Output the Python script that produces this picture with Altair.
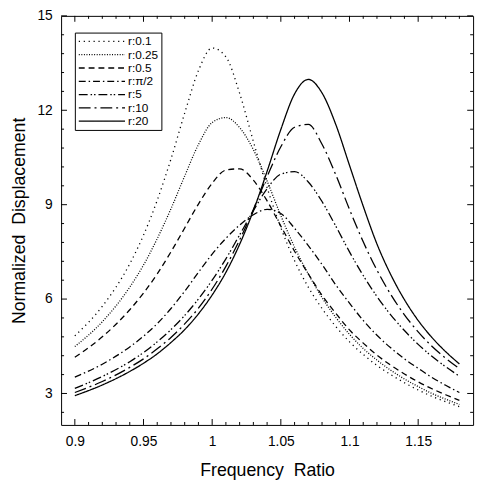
import altair as alt
import pandas as pd

freq = [0.90, 0.92, 0.94, 0.95, 0.96, 0.97, 0.98, 0.99, 1.00, 1.01, 1.02, 1.03, 1.04,
        1.05, 1.06, 1.07, 1.08, 1.09, 1.10, 1.11, 1.12, 1.13, 1.14, 1.15, 1.16, 1.17, 1.18]

r_0_1 = [4.83, 5.77, 7.12, 8.03, 9.14, 10.45, 11.91, 13.26, 13.98, 13.70, 12.54, 11.01, 9.54,
         8.27, 7.22, 6.38, 5.70, 5.13, 4.64, 4.24, 3.89, 3.60, 3.34, 3.11, 2.91, 2.74, 2.58]
r_0_25 = [4.49, 5.28, 6.38, 7.08, 7.92, 8.87, 9.91, 10.91, 11.61, 11.77, 11.45, 10.75, 9.75,
          8.65, 7.65, 6.80, 6.05, 5.42, 4.88, 4.43, 4.06, 3.74, 3.46, 3.22, 3.00, 2.82, 2.65]
r_0_5 = [4.15, 4.80, 5.66, 6.19, 6.80, 7.50, 8.26, 9.02, 9.68, 10.10, 10.14, 9.78, 9.12,
         8.32, 7.52, 6.80, 6.12, 5.55, 5.02, 4.60, 4.22, 3.90, 3.62, 3.37, 3.15, 2.96, 2.78]
r_pi_2 = [3.52, 3.93, 4.48, 4.82, 5.22, 5.70, 6.25, 6.85, 7.43, 7.93, 8.35, 8.68, 8.85,
          8.72, 8.25, 7.70, 7.10, 6.45, 5.87, 5.32, 4.85, 4.45, 4.10, 3.80, 3.51, 3.26, 3.03]
r_5 = [3.16, 3.54, 4.01, 4.30, 4.64, 5.03, 5.48, 6.00, 6.60, 7.28, 8.04, 8.81, 9.51,
       9.97, 10.05, 9.72, 9.10, 8.32, 7.50, 6.75, 6.08, 5.50, 5.00, 4.56, 4.18, 3.85, 3.55]
r_10 = [3.03, 3.38, 3.83, 4.10, 4.42, 4.78, 5.21, 5.71, 6.32, 7.04, 7.88, 8.85, 9.89,
        10.84, 11.46, 11.55, 10.92, 9.95, 8.85, 7.82, 6.92, 6.15, 5.50, 4.96, 4.50, 4.12, 3.79]
r_20 = [2.93, 3.27, 3.70, 3.96, 4.26, 4.62, 5.03, 5.53, 6.13, 6.85, 7.74, 8.81, 10.06,
        11.39, 12.52, 12.98, 12.55, 11.55, 10.25, 8.95, 7.75, 6.78, 5.98, 5.32, 4.78, 4.33, 3.94]

series_names = ["r:0.1", "r:0.25", "r:0.5", "r:\u03c0/2", "r:5", "r:10", "r:20"]
series_values = [r_0_1, r_0_25, r_0_5, r_pi_2, r_5, r_10, r_20]
dashes = [[1.2, 3.8], [1, 1.6], [6, 4], [7, 3, 1.5, 3], [9, 3, 1.5, 2, 1.5, 3], [12, 4, 2, 4], [1, 0]]

x_major = [0.9, 0.95, 1.0, 1.05, 1.1, 1.15]
x_minor = [0.91, 0.92, 0.93, 0.94, 0.96, 0.97, 0.98, 0.99, 1.01, 1.02, 1.03, 1.04,
           1.06, 1.07, 1.08, 1.09, 1.11, 1.12, 1.13, 1.14, 1.16, 1.17, 1.18]
y_major = [3, 6, 9, 12, 15]
y_minor = [2.4, 3.6, 4.2, 4.8, 5.4, 6.6, 7.2, 7.8, 8.4, 9.6, 10.2, 10.8, 11.4,
           12.6, 13.2, 13.8, 14.4]

rows = []
for name, vals in zip(series_names, series_values):
    for f, v in zip(freq, vals):
        rows.append({"f": f, "v": v, "r": name})
df = pd.DataFrame(rows)

W, H = 419, 416
FONT = "Liberation Sans"

xscale = alt.Scale(domain=[0.89, 1.19], nice=False, zero=False)
yscale = alt.Scale(domain=[2, 15], nice=False, zero=False)

lines = alt.Chart(df).mark_line(strokeWidth=1.3, color="black", interpolate="monotone").encode(
    x=alt.X("f:Q", scale=xscale,
            axis=alt.Axis(values=x_major, format=".2~f", ticks=False, domain=False, grid=False,
                          labelPadding=10, title="Frequency\u00a0\u00a0Ratio", titlePadding=13)),
    y=alt.Y("v:Q", scale=yscale,
            axis=alt.Axis(values=y_major, ticks=False, domain=False, grid=False,
                          labelPadding=9, title="Normalized\u00a0\u00a0Displacement", titlePadding=9)),
    strokeDash=alt.StrokeDash("r:N", scale=alt.Scale(domain=series_names, range=dashes),
                              sort=series_names,
                              legend=alt.Legend(title=None, orient="none", legendX=14, legendY=17,
                                                strokeColor="black", padding=3, fillColor="white",
                                                symbolType="M-1,0H8.4", symbolSize=100,
                                                symbolStrokeWidth=1.3, symbolStrokeColor="black",
                                                symbolFillColor="transparent",
                                                labelFont=FONT, labelFontSize=12, labelColor="black",
                                                rowPadding=1.5, symbolOffset=0, labelOffset=39)),
)

xmaj_df = pd.DataFrame({"f": x_major})
xmin_df = pd.DataFrame({"f": x_minor})
ymaj_df = pd.DataFrame({"v": y_major})
ymin_df = pd.DataFrame({"v": y_minor})

def xt(d, y0, y1):
    return alt.Chart(d).mark_rule(color="black", strokeWidth=1).encode(
        x=alt.X("f:Q", scale=xscale), y=alt.value(y0), y2=alt.value(y1))

def yt(d, x0, x1):
    return alt.Chart(d).mark_rule(color="black", strokeWidth=1).encode(
        y=alt.Y("v:Q", scale=yscale), x=alt.value(x0), x2=alt.value(x1))

ticks = [
    xt(xmaj_df, H, H - 6), xt(xmaj_df, 0, 6), xt(xmin_df, H, H - 3), xt(xmin_df, 0, 3),
    yt(ymaj_df, 0, 6), yt(ymaj_df, W, W - 6), yt(ymin_df, 0, 3), yt(ymin_df, W, W - 3),
]

chart = alt.layer(lines, *ticks).properties(
    width=W, height=H,
    autosize=alt.AutoSizeParams(type="none"),
    padding={"left": 54, "top": 4, "right": 6, "bottom": 53},
).configure_view(stroke="black", strokeWidth=1).configure_axis(
    labelFont=FONT, titleFont=FONT, labelFontSize=14, titleFontSize=18,
    labelColor="black", titleColor="black", titleFontWeight="normal",
)

chart.save("out.html", embed_options={"renderer": "svg", "actions": False})
